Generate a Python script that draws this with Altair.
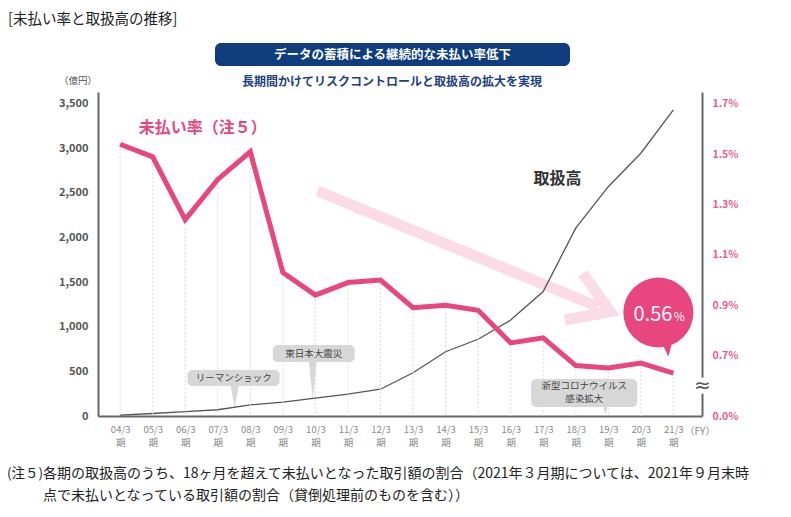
import json
import pandas as pd
import altair as alt

FONT = "Noto Sans CJK JP"
PINK = "#e9457e"
PINK_LABEL = "#ee5a8c"
PINK_LIGHT = "#fbdbe6"
NAVY = "#0f3c7c"
GRAY_AXIS = "#666666"

# ---- data ----
PERIODS = ["04/3", "05/3", "06/3", "07/3", "08/3", "09/3", "10/3", "11/3", "12/3",
           "13/3", "14/3", "15/3", "16/3", "17/3", "18/3", "19/3", "20/3", "21/3"]
VOLUME = [10, 28, 50, 70, 125, 155, 200, 245, 300,
          485, 720, 860, 1075, 1395, 2105, 2570, 2945, 3430]          # 億円
RATE = [1.54, 1.49, 1.24, 1.40, 1.51, 1.03, 0.94, 0.99, 1.00,
        0.89, 0.90, 0.88, 0.75, 0.77, 0.66, 0.65, 0.67, 0.63]          # %
AMOUNT_TICKS = [0, 500, 1000, 1500, 2000, 2500, 3000, 3500]
RATE_TICKS = [0.7, 0.9, 1.1, 1.3, 1.5, 1.7]

X_DOMAIN = [-0.68, 17.88]
AMT_DOMAIN = [0, 3631]
RATE_DOMAIN = [0.4594, 1.7477]

df = pd.DataFrame({"x": list(range(len(PERIODS))), "period": PERIODS,
                   "volume": VOLUME, "rate": RATE})

# ---- scales / axes ----
XS = alt.Scale(domain=X_DOMAIN, nice=False, zero=False)
AS = alt.Scale(domain=AMT_DOMAIN, nice=False, zero=False)
RS = alt.Scale(domain=RATE_DOMAIN, nice=False, zero=False)

x_label_expr = "[" + json.dumps(PERIODS) + "[datum.value], '期']"
XAXIS = alt.Axis(values=list(range(len(PERIODS))), labelExpr=x_label_expr, title=None,
                 grid=False, ticks=False, domainColor=GRAY_AXIS, domainWidth=2,
                 labelColor="#8a8a8a", labelFont=FONT, labelFontSize=9.5,
                 labelPadding=8, labelLineHeight=13, labelFlush=False, labelOverlap=False)
AAXIS = alt.Axis(values=AMOUNT_TICKS, format=",d", title=None, grid=False, ticks=False,
                 domainColor=GRAY_AXIS, domainWidth=2, labelColor="#555555",
                 labelFont=FONT, labelFontSize=11, labelFontWeight="bold",
                 labelPadding=10, orient="left", labelOverlap=False)
RAXIS = alt.Axis(values=[RATE_DOMAIN[0]] + RATE_TICKS,
                 labelExpr="datum.value < 0.5 ? '0.0%' : format(datum.value, '.1f') + '%'",
                 title=None, grid=False, ticks=False, domainColor=GRAY_AXIS, domainWidth=2,
                 labelColor=PINK_LABEL, labelFont=FONT, labelFontSize=10.5,
                 labelFontWeight="bold", labelPadding=10, orient="right", labelOverlap=False)


def X(f="x"):
    return alt.X(f"{f}:Q", scale=XS, axis=XAXIS)


def YA(f="y"):
    return alt.Y(f"{f}:Q", scale=AS, axis=AAXIS)


def YR(f="y"):
    return alt.Y(f"{f}:Q", scale=RS, axis=RAXIS)


# ---- annotations (data coordinates) ----
arrow_shaft = pd.DataFrame({"x": [6.07], "x2": [14.69], "y": [2522], "y2": [1222]})
arrow_head = pd.DataFrame({"k": [0, 1, 2], "x": [14.22, 15.06, 13.67], "y": [1599, 1169, 1076]})

callout_boxes = pd.DataFrame({"x": [2.07, 4.69, 12.63], "x2": [4.90, 7.21, 15.89],
                              "y": [515, 796, 415], "y2": [336, 605, 101]})
callout_ptrs = pd.DataFrame({"x": [3.52, 5.92, 14.91], "y": [213, 392, 56],
                             "size": [484, 1444, 64],
                             "shape": ["M-0.36,-1L0.36,-1L0,1Z", "M-0.2,-1L0.2,-1L0,1Z",
                                       "M-0.5,-1L0.5,-1L0,1Z"]})
callout_text = pd.DataFrame({"x": [3.49, 5.95, 14.26, 14.26], "y": [426, 700, 336, 191],
                             "t": ["リーマンショック", "東日本大震災", "新型コロナウイルス", "感染拡大"]})

vol_label = pd.DataFrame({"x": [13.44], "y": [2657], "t": ["取扱高"]})
rate_label = pd.DataFrame({"x": [0.57], "y": [1.605], "t": ["未払い率（注５）"]})

bubble = pd.DataFrame({"x": [16.54], "y": [0.871]})
bubble_tail = pd.DataFrame({"x": [16.81], "y": [0.722]})
bubble_num = pd.DataFrame({"x": [16.97], "y": [0.837], "t": ["0.56"]})
bubble_pct = pd.DataFrame({"x": [17.01], "y": [0.837], "t": ["%"]})

brk_rect = pd.DataFrame({"x": [17.76], "x2": [18.02], "y": [0.612], "y2": [0.548]})
brk_text = pd.DataFrame({"x": [17.89], "y": [0.579], "t": ["≈"]})

one = pd.DataFrame({"a": [0]})


def free_text(t, x, y, size, color, weight="normal", align="center", font=FONT):
    return alt.Chart(pd.DataFrame({"t": [t]})).mark_text(
        font=font, fontSize=size, color=color, fontWeight=weight, align=align,
        baseline="middle").encode(x=alt.value(x), y=alt.value(y), text="t:N")


# ---- layer A : amount scale (left axis) ----
a_layers = [
    alt.Chart(arrow_shaft).mark_rule(color=PINK_LIGHT, strokeWidth=11, strokeCap="butt").encode(
        x=X(), x2="x2:Q", y=YA(), y2="y2:Q"),
    alt.Chart(arrow_head).mark_line(color=PINK_LIGHT, strokeWidth=11, strokeJoin="miter",
                                    strokeCap="butt").encode(x=X(), y=YA(), order="k:Q"),
    alt.Chart(callout_boxes).mark_rect(color="#d7d7d7", cornerRadius=5).encode(
        x=X(), x2="x2:Q", y=YA(), y2="y2:Q"),
    alt.Chart(callout_ptrs).mark_point(filled=True, opacity=1, color="#d7d7d7", strokeWidth=0).encode(
        x=X(), y=YA(), size=alt.Size("size:Q", scale=None),
        shape=alt.Shape("shape:N", scale=None)),
    alt.Chart(callout_text).mark_text(font=FONT, fontSize=9.5, color="#444444",
                                      baseline="middle").encode(x=X(), y=YA(), text="t:N"),
    alt.Chart(df).mark_line(color="#555555", strokeWidth=1.3).encode(x=X(), y=YA("volume")),
    alt.Chart(vol_label).mark_text(font=FONT, fontSize=16, fontWeight="bold", color="#333333",
                                   baseline="middle").encode(x=X(), y=YA(), text="t:N"),
    # texts outside the plot area (pixel positions relative to the plot origin)
    free_text("[未払い率と取扱高の推移]", -90, -72, 14.5, "#222222", align="left"),
    alt.Chart(one).mark_rect(color=NAVY, cornerRadius=6).encode(
        x=alt.value(117), x2=alt.value(472), y=alt.value(-49), y2=alt.value(-26)),
    free_text("データの蓄積による継続的な未払い率低下", 294.5, -37.5, 12.5, "white", "bold"),
    free_text("長期間かけてリスクコントロールと取扱高の拡大を実現", 294, -10, 12, "#1d4080", "bold"),
    free_text("（億円）", -20, -11, 9.5, "#555555"),
    free_text("（FY）", 602, 340, 10, "#888888"),
    free_text("(注５)", -91, 382, 13.5, "#222222", align="left"),
    free_text("各期の取扱高のうち、18ヶ月を超えて未払いとなった取引額の割合（2021年３月期については、2021年９月末時",
              -55, 382, 14, "#222222", align="left"),
    free_text("点で未払いとなっている取引額の割合（貸倒処理前のものを含む））",
              -55, 404, 14, "#222222", align="left"),
]
layer_a = alt.layer(*a_layers)

# ---- layer B : rate scale (right axis) ----
b_layers = [
    alt.Chart(df).mark_rule(color="#d9d9d9", strokeWidth=1, strokeDash=[2, 2]).encode(
        x=X(), y=YR("rate"), y2=alt.datum(RATE_DOMAIN[0])),
    alt.Chart(df).mark_line(color=PINK, strokeWidth=5, strokeJoin="miter").encode(
        x=X(), y=YR("rate")),
    alt.Chart(bubble).mark_circle(color=PINK, size=4900, opacity=1).encode(x=X(), y=YR()),
    alt.Chart(bubble_tail).mark_point(filled=True, opacity=1, color=PINK, strokeWidth=0,
                                      size=196, shape="M-0.76,-1L0.67,-1L0.19,0.96Z").encode(
        x=X(), y=YR()),
    alt.Chart(bubble_num).mark_text(font=FONT, fontSize=20, color="white", align="right",
                                    baseline="alphabetic").encode(x=X(), y=YR(), text="t:N"),
    alt.Chart(bubble_pct).mark_text(font=FONT, fontSize=12, color="white", align="left",
                                    baseline="alphabetic").encode(x=X(), y=YR(), text="t:N"),
    alt.Chart(rate_label).mark_text(font=FONT, fontSize=16, fontWeight="bold", color=PINK,
                                    align="left", baseline="middle").encode(x=X(), y=YR(), text="t:N"),
    alt.Chart(brk_rect).mark_rect(color="white").encode(x=X(), x2="x2:Q", y=YR(), y2="y2:Q"),
    alt.Chart(brk_text).mark_text(font="DejaVu Sans", fontSize=20, color="#555555",
                                  baseline="middle").encode(x=X(), y=YR(), text="t:N"),
]
layer_b = alt.layer(*b_layers)

chart = alt.layer(layer_a, layer_b).resolve_scale(y="independent").properties(
    width=604, height=324,
    autosize=alt.AutoSizeParams(type="none"),
    padding={"left": 90, "top": 84, "right": 81, "bottom": 90},
    background="white",
).configure_view(stroke=None)

chart.save("out.html", embed_options={"renderer": "svg", "actions": False})
